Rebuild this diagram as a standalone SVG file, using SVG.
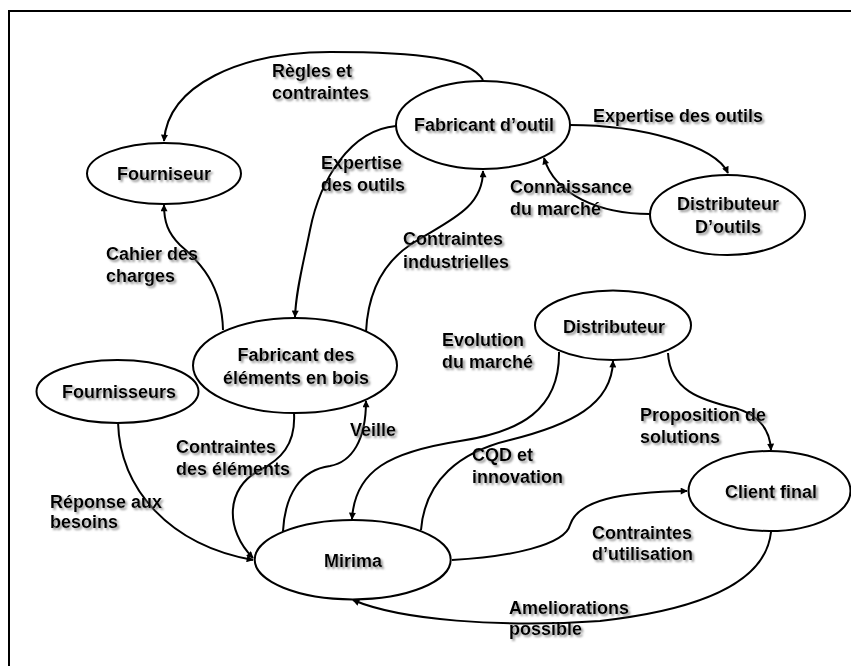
<svg xmlns="http://www.w3.org/2000/svg" width="851" height="666" viewBox="0 0 851 666">
<style>
.node ellipse{fill:#fff;stroke:#000;stroke-width:2}
text{font-family:"Liberation Sans",Arial,sans-serif;font-weight:bold;font-size:18px;fill:#000;filter:url(#sh)}
.node text{text-anchor:middle}
#connectors path{fill:none;stroke:#000;stroke-width:2;marker-end:url(#ah)}
#frame{fill:none;stroke:#000;stroke-width:2}
</style>
<defs>
<filter id="sh" x="-10%" y="-30%" width="130%" height="180%">
<feDropShadow dx="2" dy="2" stdDeviation="0.8" flood-color="#808080" flood-opacity="0.85"/>
</filter>
<marker id="ah" viewBox="0 0 10 10" refX="9" refY="5" markerWidth="8" markerHeight="7" markerUnits="userSpaceOnUse" orient="auto">
<path d="M0,0 L10,5 L0,10 Z" fill="#000"/>
</marker>
</defs>
<rect width="851" height="666" fill="#fff"/>
<path id="frame" d="M9,680 V11 H870"/>
<g id="connectors">
<path d="M483,80 C470,58 420,52 330,52 C240,52 168,85 164,141"/>
<path d="M570,125 C640,125 715,145 728,173"/>
<path d="M650,214 C600,214 555,195 544,158"/>
<path d="M366,332 C368,290 385,262 410,245 C445,222 483,210 483,171"/>
<path d="M396,126 C350,130 320,180 310,230 C303,265 296,290 295,317"/>
<path d="M223,330 C222,285 200,262 180,245 C168,233 164,222 164,205"/>
<path d="M118,422 C120,490 170,545 253,560"/>
<path d="M294,413 C296,445 280,460 260,470 C225,488 225,530 253,558"/>
<path d="M283,531 C285,495 300,470 330,466 C352,462 366,440 366,401"/>
<path d="M559,352 C560,410 520,432 460,441 C390,452 355,470 352,519"/>
<path d="M421,530 C425,480 460,452 510,440 C570,425 612,405 613,361"/>
<path d="M668,353 C670,390 700,400 735,408 C760,415 770,430 771,450"/>
<path d="M452,560 C510,557 565,545 570,525 C578,500 620,492 687,491"/>
<path d="M771,532 C765,590 680,612 600,621 C500,628 400,620 353,600"/>
</g>
<g id="labels">
<text x="272" y="77">Règles et</text>
<text x="272" y="99">contraintes</text>
<text x="593" y="122">Expertise des outils</text>
<text x="510" y="193">Connaissance</text>
<text x="510" y="215">du marché</text>
<text x="321" y="169">Expertise</text>
<text x="321" y="191">des outils</text>
<text x="403" y="245">Contraintes</text>
<text x="403" y="268">industrielles</text>
<text x="106" y="260">Cahier des</text>
<text x="106" y="282">charges</text>
<text x="442" y="346">Evolution</text>
<text x="442" y="368">du marché</text>
<text x="640" y="421">Proposition de</text>
<text x="640" y="443">solutions</text>
<text x="350" y="436">Veille</text>
<text x="176" y="453">Contraintes</text>
<text x="176" y="475">des éléments</text>
<text x="472" y="461">CQD et</text>
<text x="472" y="483">innovation</text>
<text x="50" y="508">Réponse aux</text>
<text x="50" y="528">besoins</text>
<text x="592" y="539">Contraintes</text>
<text x="592" y="560">d’utilisation</text>
<text x="509" y="614">Ameliorations</text>
<text x="509" y="635">possible</text>
</g>
<g id="n-fourniseur" class="node"><ellipse cx="164" cy="173.5" rx="77" ry="30.5"/><text x="164" y="180">Fourniseur</text></g>
<g id="n-fabricant-outil" class="node"><ellipse cx="483" cy="125" rx="87" ry="44"/><text x="484" y="131">Fabricant d’outil</text></g>
<g id="n-distributeur-outils" class="node"><ellipse cx="727.5" cy="215" rx="77.5" ry="40"/><text x="728" y="210">Distributeur</text><text x="728" y="233">D’outils</text></g>
<g id="n-fabricant-elements" class="node"><ellipse cx="295" cy="365.5" rx="102" ry="47.5"/><text x="296" y="361">Fabricant des</text><text x="296" y="384">éléments en bois</text></g>
<g id="n-fournisseurs" class="node"><ellipse cx="117.5" cy="391.5" rx="81" ry="31.5"/><text x="119" y="398">Fournisseurs</text></g>
<g id="n-distributeur" class="node"><ellipse cx="613" cy="325.3" rx="78" ry="34.7"/><text x="614" y="333">Distributeur</text></g>
<g id="n-mirima" class="node"><ellipse cx="352.7" cy="559.7" rx="98" ry="39.7"/><text x="353" y="567">Mirima</text></g>
<g id="n-client" class="node"><ellipse cx="769.5" cy="491" rx="81" ry="40"/><text x="771" y="498">Client final</text></g>
</svg>
